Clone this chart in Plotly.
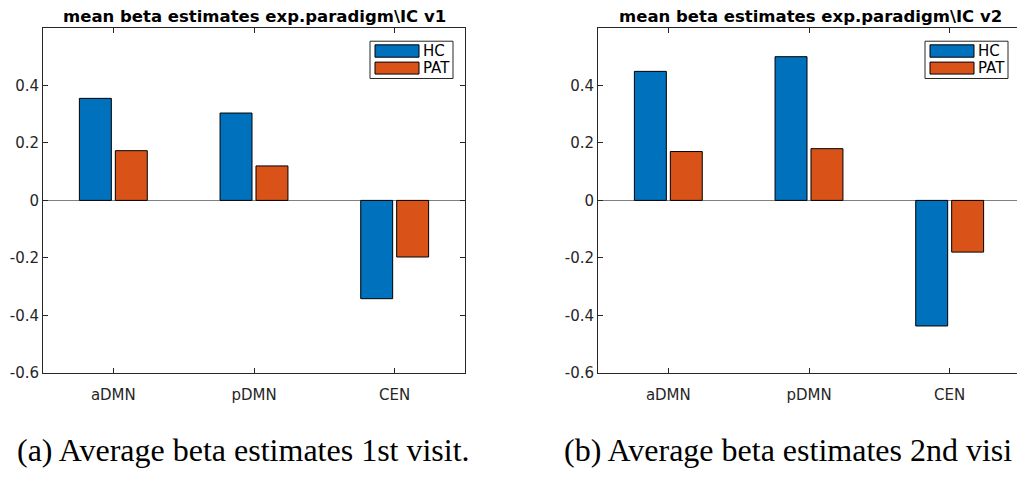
import plotly.graph_objects as go

# ---------------- data ----------------
categories = ["aDMN", "pDMN", "CEN"]
groups = ["HC", "PAT"]
v1_hc = [0.355, 0.304, -0.342]
v1_pat = [0.173, 0.120, -0.197]
v2_hc = [0.449, 0.500, -0.437]
v2_pat = [0.170, 0.180, -0.180]
ytick_vals = [-0.6, -0.4, -0.2, 0, 0.2, 0.4]
ytick_text = ["-0.6", "-0.4", "-0.2", "0", "0.2", "0.4"]
titles = ["mean beta estimates exp.paradigm\\IC v1",
          "mean beta estimates exp.paradigm\\IC v2"]
captions = ["(a) Average beta estimates 1st visit.",
            "(b) Average beta estimates 2nd visi"]

# ---------------- style ----------------
W, H = 1017, 477
C_HC = "#0072BD"
C_PAT = "#D95319"
AX = "#262626"
FONT = "DejaVu Sans"


def px(x):
    return x / W


def py(y):
    return 1 - y / H


fig = go.Figure()

series = [(v1_hc, v1_pat, "x", "y"), (v2_hc, v2_pat, "x2", "y2")]
for hc, pat, xa, ya in series:
    for vals, name, col in ((hc, groups[0], C_HC), (pat, groups[1], C_PAT)):
        fig.add_trace(go.Bar(
            x=categories, y=vals, name=name, xaxis=xa, yaxis=ya,
            marker=dict(color=col, line=dict(color="#000000", width=1)),
            showlegend=False, hoverinfo="x+y+name"))

ydom = [py(380), py(28.5)]
axis_common = dict(showline=True, linecolor=AX, linewidth=1, ticks="inside",
                   tickcolor=AX, ticklen=5, showgrid=False,
                   tickfont=dict(family=FONT, size=15, color=AX))

fig.update_layout(
    width=W, height=H, margin=dict(l=0, r=0, t=0, b=0),
    paper_bgcolor="white", plot_bgcolor="white",
    barmode="group", bargap=0.489, bargroupgap=0.111,
    showlegend=False,
    xaxis=dict(domain=[px(43), px(465)], range=[-0.5, 2.5], anchor="y",
               mirror="ticks", zeroline=False, ticklabelstandoff=8, **axis_common),
    yaxis=dict(domain=ydom, range=[-0.6, 0.6], anchor="x",
               tickvals=ytick_vals, ticktext=ytick_text, mirror="ticks",
               zeroline=True, zerolinecolor="#808080", zerolinewidth=1,
               **axis_common),
    xaxis2=dict(domain=[px(598), 1.0], range=[-0.5, -0.5 + (W - 598) / (422 / 3)],
                anchor="y2", mirror="ticks", zeroline=False, ticklabelstandoff=8,
                **axis_common),
    yaxis2=dict(domain=ydom, range=[-0.6, 0.6], anchor="x2",
                tickvals=ytick_vals, ticktext=ytick_text, mirror=False,
                zeroline=True, zerolinecolor="#808080", zerolinewidth=1,
                **axis_common),
)

shapes = []
annotations = []
# titles
for cx, t in zip((255, 810), titles):
    annotations.append(dict(x=px(cx), y=py(16.5), xref="paper", yref="paper",
                            text="<b>" + t + "</b>", showarrow=False,
                            xanchor="center", yanchor="middle",
                            font=dict(family=FONT, size=16.5, color="#000000")))

# legends (drawn as boxes with swatches)
for dx in (0, 555):
    shapes.append(dict(type="rect", xref="paper", yref="paper",
                       x0=px(370 + dx), x1=px(453 + dx), y0=py(80), y1=py(42),
                       line=dict(color=AX, width=1), fillcolor="white", layer="above"))
    for (y0, y1, col, name) in ((45.7, 58.3, C_HC, groups[0]), (63.3, 75.5, C_PAT, groups[1])):
        shapes.append(dict(type="rect", xref="paper", yref="paper",
                           x0=px(375 + dx), x1=px(419 + dx), y0=py(y1), y1=py(y0),
                           line=dict(color="#000000", width=1), fillcolor=col, layer="above"))
        annotations.append(dict(x=px(421 + dx), y=py((y0 + y1) / 2), xref="paper", yref="paper",
                                text=name, showarrow=False, xanchor="left", yanchor="middle",
                                font=dict(family=FONT, size=15, color="#000000")))

# captions
for lx, c in zip((15, 562), captions):
    annotations.append(dict(x=px(lx), y=py(459), xref="paper", yref="paper",
                            text=c, showarrow=False, xanchor="left", yanchor="middle",
                            font=dict(family="Liberation Serif", size=32, color="#000000")))

fig.update_layout(shapes=shapes, annotations=annotations)
fig.write_html("out.html")
